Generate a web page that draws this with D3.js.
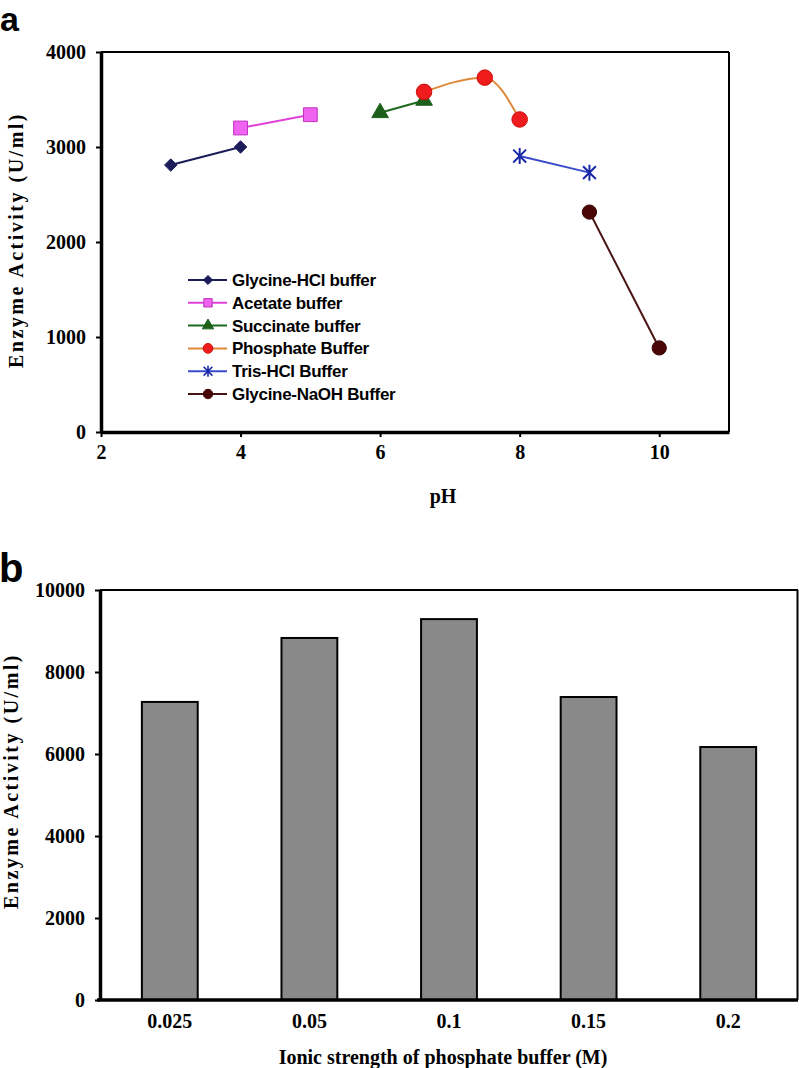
<!DOCTYPE html>
<html>
<head>
<meta charset="utf-8">
<script src="https://cdn.jsdelivr.net/npm/d3@7"></script>
<style>
  html, body { margin: 0; padding: 0; background: #fff; }
  svg { display: block; }
</style>
</head>
<body>
<svg id="chart" width="799" height="1068"></svg>
<script>
// ---------- Data: panel a (pH profile) ----------
const seriesNames = ["Glycine-HCl buffer", "Acetate buffer", "Succinate buffer", "Phosphate Buffer", "Tris-HCl Buffer", "Glycine-NaOH Buffer"];
const glycineHClPH = [3, 4];
const glycineHClActivity = [2810, 3000];
const acetatePH = [4, 5];
const acetateActivity = [3200, 3340];
const succinatePH = [6, 6.63];
const succinateActivity = [3360, 3490];
const phosphatePH = [6.63, 7.5, 8];
const phosphateActivity = [3580, 3730, 3290];
const trisPH = [8, 9];
const trisActivity = [2905, 2730];
const glycineNaOHPH = [9, 10];
const glycineNaOHActivity = [2315, 885];
const phTicks = [2, 4, 6, 8, 10];
const activityTicksA = [0, 1000, 2000, 3000, 4000];

// ---------- Data: panel b (ionic strength) ----------
const ionicLabels = ["0.025", "0.05", "0.1", "0.15", "0.2"];
const ionicActivity = [7270, 8830, 9290, 7390, 6170];
const activityTicksB = [0, 2000, 4000, 6000, 8000, 10000];

// ---------- Build ----------
const svg = d3.select("#chart");
const serif = "'Liberation Serif', 'Times New Roman', serif";
const sans = "'Liberation Sans', Arial, sans-serif";

// Panel letters
svg.append("text").attr("x", 0).attr("y", 31).attr("font-family", sans).attr("font-weight", "bold")
  .attr("font-size", 34).text("a");
svg.append("text").attr("x", -1).attr("y", 582).attr("font-family", sans).attr("font-weight", "bold")
  .attr("font-size", 40).text("b");

// ===== Panel a =====
const xA = d3.scaleLinear().domain([2, 11]).range([101, 729]);
const yA = d3.scaleLinear().domain([0, 4000]).range([432, 52]);

const gA = svg.append("g");
gA.append("line").attr("x1", xA(2)).attr("x2", xA(11)).attr("y1", yA(4000)).attr("y2", yA(4000))
  .attr("stroke", "#000").attr("stroke-width", 2);
gA.append("line").attr("x1", xA(11)).attr("x2", xA(11)).attr("y1", yA(4000)).attr("y2", yA(0))
  .attr("stroke", "#000").attr("stroke-width", 2);

const axXA = gA.append("g").attr("transform", `translate(0,${yA(0)})`)
  .call(d3.axisBottom(xA).tickValues(phTicks).tickFormat(d3.format("d")).tickSize(5).tickSizeOuter(0).tickPadding(8));
const axYA = gA.append("g").attr("transform", `translate(${xA(2)},0)`)
  .call(d3.axisLeft(yA).tickValues(activityTicksA).tickFormat(d3.format("d")).tickSize(5).tickSizeOuter(0).tickPadding(10));
[axXA, axYA].forEach(ax => {
  ax.select(".domain").attr("stroke-width", 3.5);
  ax.selectAll(".tick line").attr("stroke-width", 2);
  ax.selectAll("text").attr("font-family", serif).attr("font-weight", "bold").attr("font-size", 20).attr("fill", "#000");
});

gA.append("text").attr("x", 443).attr("y", 503).attr("text-anchor", "middle")
  .attr("font-family", serif).attr("font-weight", "bold").attr("font-size", 20).text("pH");
gA.append("text").attr("transform", `translate(23,${(yA(0) + yA(4000)) / 2 - 2}) rotate(-90)`)
  .attr("text-anchor", "middle").attr("font-family", serif).attr("font-weight", "bold")
  .attr("font-size", 20).attr("letter-spacing", 2.5).text("Enzyme Activity (U/ml)");

const series = [
  { name: seriesNames[0], x: glycineHClPH, y: glycineHClActivity, line: "#1c1c5a", fill: "#1c1c5a", stroke: "#1c1c5a", shape: "diamond", size: 75, lsize: 40, curve: d3.curveLinear },
  { name: seriesNames[1], x: acetatePH, y: acetateActivity, line: "#e040d8", fill: "#f062f0", stroke: "#c030c0", shape: "square", size: 190, lsize: 70, curve: d3.curveLinear },
  { name: seriesNames[2], x: succinatePH, y: succinateActivity, line: "#1f6a1f", fill: "#1c601c", stroke: "#1c601c", shape: "triangle", size: 120, lsize: 55, curve: d3.curveLinear },
  { name: seriesNames[3], x: phosphatePH, y: phosphateActivity, line: "#e0883a", fill: "#ee1c1c", stroke: "#d01010", shape: "circle", size: 190, lsize: 75, curve: d3.curveMonotoneX },
  { name: seriesNames[4], x: trisPH, y: trisActivity, line: "#3a4ccc", fill: "none", stroke: "#1a28a8", shape: "star", size: 8, lsize: 5.5, curve: d3.curveLinear },
  { name: seriesNames[5], x: glycineNaOHPH, y: glycineNaOHActivity, line: "#4a1414", fill: "#4a0606", stroke: "#3a0404", shape: "circle", size: 160, lsize: 70, curve: d3.curveLinear }
];

function starPath(r) {
  return `M0,${-r}L0,${r}M${-r*0.8},${-r*0.8}L${r*0.8},${r*0.8}M${-r*0.8},${r*0.8}L${r*0.8},${-r*0.8}M${-r*0.2},0L${r*0.2},0`;
}
function markerPath(shape, size) {
  if (shape === "star") return starPath(size);
  if (shape === "diamond") { const r = Math.sqrt(size) * 0.72; return `M0,${-r}L${r},0L0,${r}L${-r},0Z`; }
  const t = { square: d3.symbolSquare, triangle: d3.symbolTriangle, circle: d3.symbolCircle }[shape];
  return d3.symbol().type(t).size(size)();
}

series.forEach(s => {
  const pts = s.x.map((v, i) => [v, s.y[i]]);
  gA.append("path").datum(pts)
    .attr("d", d3.line().x(d => xA(d[0])).y(d => yA(d[1])).curve(s.curve))
    .attr("fill", "none").attr("stroke", s.line).attr("stroke-width", 2);
  gA.selectAll(null).data(pts).enter().append("path")
    .attr("transform", d => `translate(${xA(d[0])},${yA(d[1])})`)
    .attr("d", markerPath(s.shape, s.size))
    .attr("fill", s.fill).attr("stroke", s.stroke).attr("stroke-width", s.shape === "star" ? 2 : 1);
});

// Legend
const leg = gA.append("g");
series.forEach((s, i) => {
  const cy = 280 + i * 22.8;
  leg.append("line").attr("x1", 188).attr("x2", 227).attr("y1", cy).attr("y2", cy)
    .attr("stroke", s.line).attr("stroke-width", 2);
  leg.append("path").attr("transform", `translate(208,${cy})`)
    .attr("d", markerPath(s.shape, s.lsize))
    .attr("fill", s.fill).attr("stroke", s.stroke).attr("stroke-width", s.shape === "star" ? 1.6 : 1);
  leg.append("text").attr("x", 232).attr("y", cy + 6)
    .attr("font-family", sans).attr("font-weight", "bold").attr("font-size", 17)
    .attr("letter-spacing", -0.3).text(s.name);
});

// ===== Panel b =====
const xB = d3.scaleBand().domain(ionicLabels).range([100, 798]).paddingInner(0.6).paddingOuter(0.3);
const yB = d3.scaleLinear().domain([0, 10000]).range([1000, 590]);
const gB = svg.append("g");

gB.append("line").attr("x1", 100).attr("x2", 798).attr("y1", yB(10000)).attr("y2", yB(10000))
  .attr("stroke", "#000").attr("stroke-width", 2);
gB.append("line").attr("x1", 797.5).attr("x2", 797.5).attr("y1", yB(10000)).attr("y2", yB(0))
  .attr("stroke", "#000").attr("stroke-width", 2);

gB.selectAll("rect").data(ionicLabels).enter().append("rect")
  .attr("x", d => xB(d)).attr("width", xB.bandwidth())
  .attr("y", (d, i) => yB(ionicActivity[i]))
  .attr("height", (d, i) => yB(0) - yB(ionicActivity[i]))
  .attr("fill", "#898989").attr("stroke", "#000").attr("stroke-width", 2);

const axXB = gB.append("g").attr("transform", `translate(0,${yB(0)})`)
  .call(d3.axisBottom(xB).tickSize(0).tickSizeOuter(0).tickPadding(14));
const axYB = gB.append("g").attr("transform", `translate(100,0)`)
  .call(d3.axisLeft(yB).tickValues(activityTicksB).tickFormat(d3.format("d")).tickSize(5).tickSizeOuter(0).tickPadding(10));
[axXB, axYB].forEach(ax => {
  ax.select(".domain").attr("stroke-width", 3.5);
  ax.selectAll(".tick line").attr("stroke-width", 2);
  ax.selectAll("text").attr("font-family", serif).attr("font-weight", "bold").attr("font-size", 20).attr("fill", "#000");
});
axXB.select(".domain").attr("d", "M97,0H798");

gB.append("text").attr("x", 443).attr("y", 1064).attr("text-anchor", "middle")
  .attr("font-family", serif).attr("font-weight", "bold").attr("font-size", 20)
  .text("Ionic strength of phosphate buffer (M)");
gB.append("text").attr("transform", `translate(18,781) rotate(-90)`)
  .attr("text-anchor", "middle").attr("font-family", serif).attr("font-weight", "bold")
  .attr("font-size", 20).attr("letter-spacing", 2.5).text("Enzyme Activity (U/ml)");
</script>
</body>
</html>
